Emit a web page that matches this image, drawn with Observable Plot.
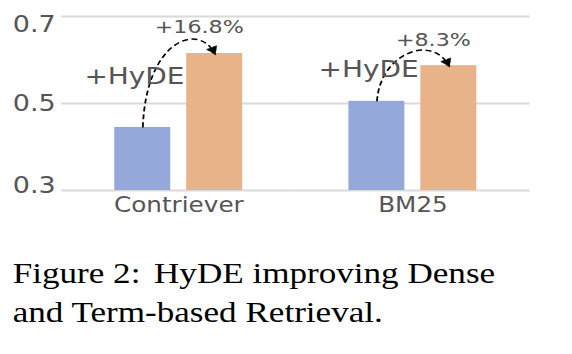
<!DOCTYPE html>
<html>
<head>
<meta charset="utf-8">
<script src="https://cdn.jsdelivr.net/npm/d3@7"></script>
<script src="https://cdn.jsdelivr.net/npm/@observablehq/plot@0.6"></script>
<style>
  html, body { margin: 0; padding: 0; background: #fff; }
  body { width: 572px; height: 354px; overflow: hidden; position: relative; }
  #chart { position: absolute; left: 0; top: 0; transform-origin: 0 0; }
  #caption {
    position: absolute; left: 0; top: 254px; padding-left: 10.5px;
    font-family: "Liberation Serif", "Times New Roman", serif;
    font-size: 29px; line-height: 39px; color: #000;
    transform-origin: 0 0; transform: scaleX(1.21); white-space: nowrap;
  }
</style>
</head>
<body>
<div id="chart"></div>
<div id="caption"><span style="margin-right:4px">Figure 2:</span> HyDE improving Dense<br>and Term-based Retrieval.</div>
<script>
// ---- data ----
const categories = ["Contriever", "BM25"];
const seriesKeys = ["base", "hyde"];
const baseValues = [0.445, 0.505];
const hydeValues = [0.615, 0.587];
const gainLabels = ["+16.8%", "+8.3%"];
const hydeLabel = "+HyDE";
const yTicks = [0.3, 0.5, 0.7];
const yTickLabels = ["0.3", "0.5", "0.7"];

// ---- styling / layout ----
const seriesColors = ["#94a9d9", "#e9b38a"];
const textColor = "#555555";
const font = "DejaVu Sans";
const S = 1.2;                    // horizontal stretch of the original figure
const W = Math.round(572 / S);
const H = 228;
const tickDy = [-5, 0, 8];

const rows = categories.flatMap((c, i) => [
  {cat: c, series: seriesKeys[0], value: baseValues[i]},
  {cat: c, series: seriesKeys[1], value: hydeValues[i]}
]);
const pairs = categories.map((c, i) => ({cat: c, base: baseValues[i], hyde: hydeValues[i], gain: gainLabels[i]}));

// custom curve: arc rising from the first point, overshooting, then falling onto the second
function arcCurve(context) {
  let pts = [];
  return {
    areaStart() {}, areaEnd() {},
    lineStart() { pts = []; },
    point(x, y) { pts.push([+x, +y]); },
    lineEnd() {
      if (pts.length < 2) return;
      const [[x0, y0], [x1, y1]] = pts;
      const dx = x1 - x0, top = Math.min(y0, y1);
      context.moveTo(x0, y0);
      context.bezierCurveTo(x0 + 0.04 * dx, top - 12, x0 + 0.76 * dx, top - 32, x1, y1);
    }
  };
}

const plot = Plot.plot({
  width: W,
  height: H,
  marginLeft: 51,
  marginRight: W - 441.5,
  marginTop: 16,
  marginBottom: H - 190,
  style: {fontFamily: font, color: textColor, background: "transparent", overflow: "visible"},
  fx: {domain: categories, padding: 0, round: false, label: null},
  x: {domain: seriesKeys, paddingInner: 0.222, paddingOuter: 0.738, axis: null, round: false},
  y: {domain: [yTicks[0], yTicks[yTicks.length - 1]]},
  color: {domain: seriesKeys, range: seriesColors},
  marks: [
    Plot.gridY({ticks: yTicks, stroke: "#d9d9d9", strokeOpacity: 1, strokeWidth: 2}),
    Plot.barY(rows, {fx: "cat", x: "series", y1: () => yTicks[0], y2: "value", fill: "series"}),
    Plot.link(pairs, {
      fx: "cat", x1: () => seriesKeys[0], x2: () => seriesKeys[1], y1: "base", y2: "hyde",
      curve: arcCurve, stroke: "#000", strokeWidth: 1.5, strokeDasharray: "5,3", markerEnd: "arrow"
    }),
    Plot.text(pairs, {
      fx: "cat", x: () => seriesKeys[0], y: d => (d.base + d.hyde) / 2, text: () => hydeLabel,
      dx: -7, dy: -13.5, fontSize: 23.3, fill: textColor, fontFamily: font
    }),
    Plot.text(pairs, {
      fx: "cat", x: () => seriesKeys[1], y: "hyde", text: "gain",
      dx: -13, dy: -26, fontSize: 18.5, fill: textColor, fontFamily: font
    }),
    ...yTicks.map((t, i) => Plot.axisY({
      ticks: [t], tickFormat: () => yTickLabels[i], tickSize: 0, tickPadding: 5,
      dy: tickDy[i], fontSize: 22.5, label: null
    })),
    Plot.axisFx({anchor: "bottom", tickSize: 0, tickPadding: 7, fontSize: 20.6, label: null})
  ]
});

// filled arrow heads
plot.querySelectorAll("marker").forEach(m => {
  m.setAttribute("overflow", "visible");
  m.setAttribute("fill", "#000");
  m.setAttribute("stroke", "#000");
  m.setAttribute("stroke-width", "0.5");
  const p = m.querySelector("path");
  if (p) p.setAttribute("d", "M-6.5,-4.5L1.5,0L-6.5,4.5Z");
});

const chart = document.getElementById("chart");
chart.appendChild(plot);
chart.style.transform = `scaleX(${572 / W})`;
</script>
</body>
</html>
